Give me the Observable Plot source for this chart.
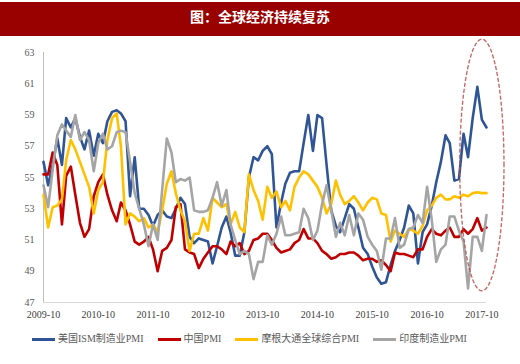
<!DOCTYPE html>
<html><head><meta charset="utf-8">
<script src="https://cdn.jsdelivr.net/npm/d3@7"></script>
<script src="https://cdn.jsdelivr.net/npm/@observablehq/plot@0.6"></script>
<style>
body{margin:0;background:#fff;width:520px;height:364px;overflow:hidden;position:relative;font-family:"Liberation Serif","Noto Sans CJK SC",serif;}
#title{position:absolute;left:0;top:2px;width:520px;height:34px;background:#990000;color:#fff;font-weight:bold;font-size:14px;font-family:"Noto Sans CJK SC",sans-serif;text-align:center;line-height:28px;}
#chart{position:absolute;left:0;top:38px;}
#legend{position:absolute;top:332px;left:32px;display:flex;align-items:center;font-size:10px;line-height:14px;color:#595959;white-space:nowrap;}
#legend .item{display:flex;align-items:center;margin-right:14px;}
#legend .sw{display:inline-block;width:23px;height:3px;margin-right:3px;}
</style>
</head><body>
<div id="title">图：全球经济持续复苏</div>
<div id="chart"></div>
<div id="legend"></div>
<script>
// Monthly series starting 2009-10, ending 2017-11
const startMonth = "2009-10";
const seriesNames = ["美国ISM制造业PMI", "中国PMI", "摩根大通全球综合PMI", "印度制造业PMI"];
const seriesColors = ["#2F5597", "#C00000", "#FFC000", "#A5A5A5"];
const usIsm = [56.0,54.5,55.8,57.5,55.8,58.8,58.2,58.8,57.6,56.8,58.0,56.4,57.8,57.2,58.6,59.2,59.3,59.1,58.6,53.8,
  56.3,53.0,53.0,52.6,51.9,52.6,52.9,52.5,52.4,53.0,53.7,53.3,51.2,50.8,51.1,51.0,50.9,49.5,50.6,51.8,
  52.5,51.5,50.0,50.0,51.5,55.0,56.3,56.1,56.7,57.0,56.5,51.8,53.4,54.6,55.3,55.4,55.4,57.2,59.0,56.7,
  59.0,58.8,55.8,52.9,51.9,51.5,52.4,53.3,53.0,51.8,50.5,50.1,49.3,48.6,48.2,48.3,49.4,50.3,51.0,51.8,
  53.2,52.7,49.5,51.5,52.0,53.2,54.7,56.0,57.7,57.2,54.8,54.9,57.8,56.3,58.8,60.8,58.7,58.2];
const chinaPmi = [55.2,55.2,56.6,55.8,52.0,55.1,55.7,53.9,52.1,51.2,51.7,53.8,54.7,55.2,53.9,52.9,52.2,53.4,52.9,52.0,
  50.9,50.7,50.9,51.2,50.4,49.0,50.3,50.5,51.0,53.1,53.3,50.4,50.2,50.1,49.2,49.8,50.2,50.6,50.6,50.4,
  50.1,50.9,50.6,50.8,50.1,50.3,51.0,51.1,51.4,51.4,51.0,50.5,50.2,50.3,50.4,50.8,51.0,51.7,51.1,51.1,
  50.8,50.3,50.1,49.8,49.9,50.1,50.1,50.2,50.2,50.0,49.7,49.8,49.8,49.6,49.7,49.4,49.0,50.2,50.1,50.1,
  50.0,49.9,50.4,50.4,51.2,51.7,51.4,51.3,51.6,51.8,51.2,51.2,51.7,51.4,51.7,52.4,51.6,51.8];
const jpmGlobal = [53.9,51.8,53.1,53.2,53.6,56.1,57.4,56.8,56.0,55.2,54.4,52.7,54.2,54.7,57.4,58.8,59.1,57.0,52.0,52.7,
  52.5,52.2,52.4,51.8,52.0,51.5,52.9,54.6,55.4,54.0,52.9,52.2,50.3,51.4,51.4,52.4,51.6,53.7,53.4,53.1,
  53.3,52.0,52.8,51.8,51.5,55.2,54.2,53.5,52.3,54.4,53.7,54.1,53.1,53.5,52.9,54.4,55.0,55.4,55.2,54.8,
  54.4,53.7,52.7,53.3,54.8,53.9,53.3,53.5,53.8,53.4,52.9,53.4,53.7,53.6,52.7,52.6,50.9,51.6,51.4,51.2,
  51.7,51.6,51.4,51.9,52.9,53.2,53.7,53.9,53.6,53.6,53.8,53.7,53.9,53.8,54.0,54.05,54.0,54.0];
const indiaPmi = [54.5,53.1,55.5,57.7,58.4,58.0,57.6,59.0,57.4,57.9,57.4,55.4,57.2,57.8,56.8,57.0,57.9,58.0,57.9,56.0,
  54.0,53.0,52.0,50.6,52.0,51.0,54.2,57.5,56.6,54.7,54.9,54.8,55.0,52.9,52.8,52.8,52.9,53.7,54.7,53.2,
  54.2,52.0,51.0,50.1,50.3,50.1,48.5,49.6,49.6,51.3,50.7,51.4,52.5,51.3,51.3,51.4,51.5,53.0,52.4,51.0,
  51.6,53.3,54.5,52.9,51.2,52.1,51.3,52.6,51.3,52.7,52.3,51.2,50.7,50.3,49.1,51.1,51.1,52.4,50.5,50.7,
  51.7,51.8,52.6,52.1,54.4,52.3,49.6,50.4,50.7,52.5,52.5,51.6,50.9,47.9,51.2,51.2,50.3,52.6];
const xTickLabels = ["2009-10","2010-10","2011-10","2012-10","2013-10","2014-10","2015-10","2016-10","2017-10"];
const yTicks = [47,49,51,53,55,57,59,61,63];
// annotation ellipse (data units): centre month, centre value, half-width in months, half-height in PMI points
const ellipseCenterMonth = "2017-10";
const ellipseCenterValue = 55.8;
const ellipseRxMonths = 4.85;
const ellipseRyValue = 8.05;

const parseM = d3.utcParse("%Y-%m");
const start = parseM(startMonth);
const allValues = [usIsm, chinaPmi, jpmGlobal, indiaPmi];
const months = usIsm.map((_, i) => d3.utcMonth.offset(start, i));
const rows = allValues.flatMap((vals, k) => vals.map((v, i) => ({date: months[i], value: v, name: seriesNames[k]})));

const MONTH_MS = 30.44 * 864e5;
const ec = parseM(ellipseCenterMonth).getTime();
const ellipse = d3.range(0, 361, 3).map(a => {
  const t = a * Math.PI / 180;
  return {date: new Date(ec + ellipseRxMonths * MONTH_MS * Math.cos(t)), value: ellipseCenterValue + ellipseRyValue * Math.sin(t)};
});

const chart = Plot.plot({
  width: 520, height: 290,
  marginTop: 14, marginBottom: 26, marginLeft: 43, marginRight: 34,
  x: {type: "utc", domain: [months[0], months[months.length - 1]]},
  y: {domain: [47, 63]},
  color: {domain: seriesNames, range: seriesColors},
  style: {fontFamily: "'Liberation Serif', serif", fontSize: "10px", color: "#595959", overflow: "visible", background: "transparent"},
  marks: [
    Plot.ruleX([months[0]], {stroke: "#BFBFBF", strokeWidth: 1}),
    Plot.ruleY([47], {stroke: "#D9D9D9", strokeWidth: 1}),
    Plot.axisY({ticks: yTicks, tickSize: 0, tickPadding: 9, label: null, fill: "#595959"}),
    Plot.axisX({ticks: xTickLabels.map(parseM), tickSize: 0, tickPadding: 8, tickFormat: d3.utcFormat("%Y-%m"), label: null, fill: "#404040"}),
    Plot.line(rows, {x: "date", y: "value", z: "name", stroke: "name", strokeWidth: 2.6, strokeLinejoin: "round", strokeLinecap: "round"}),
    Plot.line(ellipse, {x: "date", y: "value", stroke: "#C0504D", strokeWidth: 1.4, strokeDasharray: "3,3", strokeOpacity: 0.85, clip: false})
  ]
});
document.getElementById("chart").appendChild(chart);

const legend = document.getElementById("legend");
seriesNames.forEach((n, k) => {
  const it = document.createElement("div");
  it.className = "item";
  const sw = document.createElement("span");
  sw.className = "sw";
  sw.style.background = seriesColors[k];
  const tx = document.createElement("span");
  tx.textContent = n;
  it.appendChild(sw); it.appendChild(tx);
  legend.appendChild(it);
});
</script>
</body></html>
